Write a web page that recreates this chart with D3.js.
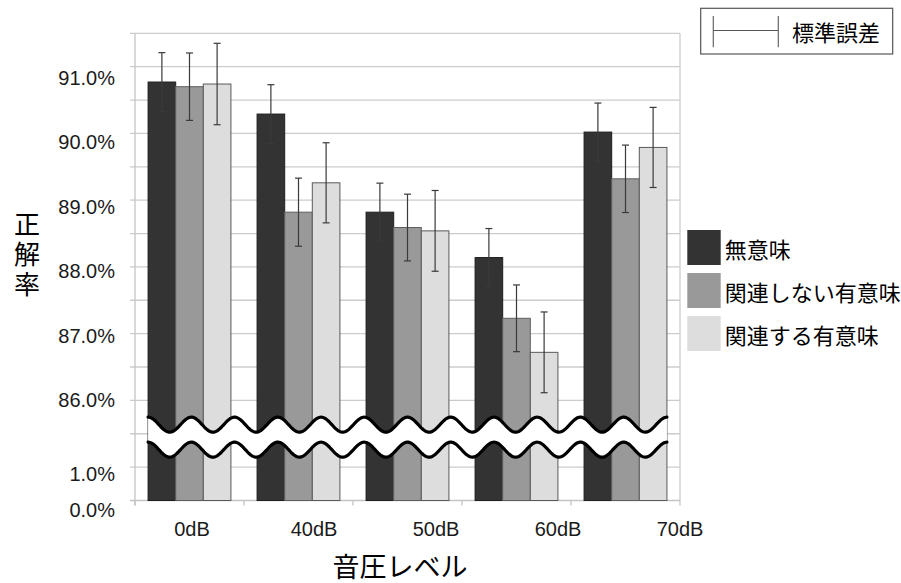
<!DOCTYPE html>
<html>
<head>
<meta charset="utf-8">
<script src="https://cdn.jsdelivr.net/npm/d3@7/dist/d3.min.js"></script>
<style>
  html, body { margin: 0; padding: 0; background: #fff; }
  svg { display: block; }
</style>
</head>
<body>
<svg id="chart" width="901" height="583"></svg>
<script>
// ---------------- data ----------------
const categories = ["0dB", "40dB", "50dB", "60dB", "70dB"];
const seriesNames = ["無意味", "関連しない有意味", "関連する有意味"];
const meaninglessValues = [90.77, 90.29, 88.82, 88.14, 90.02];
const unrelatedValues   = [90.70, 88.82, 88.59, 87.23, 89.32];
const relatedValues     = [90.74, 89.26, 88.54, 86.72, 89.79];
const meaninglessErrors = [0.44, 0.44, 0.435, 0.435, 0.435];
const unrelatedErrors   = [0.505, 0.51, 0.50, 0.50, 0.505];
const relatedErrors     = [0.61, 0.60, 0.605, 0.605, 0.60];
const yTickValues = [0, 1, 86, 87, 88, 89, 90, 91];
const xTitle = "音圧レベル";
const yTitle = "正解率";
const errorLegendLabel = "標準誤差";

// ---------------- setup ----------------
const svg = d3.select("#chart");
const seriesColors = ["#333333", "#999999", "#dddddd"];
const seriesStroke = ["#1e1e1e", "#5e5e5e", "#5a5a5a"];
const latin = "'Liberation Sans', Arial, sans-serif";
const cjk = "'Noto Sans CJK JP', 'Noto Sans', sans-serif";

const series = seriesNames.map((name, i) => ({
  name,
  values: [meaninglessValues, unrelatedValues, relatedValues][i],
  errors: [meaninglessErrors, unrelatedErrors, relatedErrors][i],
  color: seriesColors[i],
  stroke: seriesStroke[i]
}));

const plotLeft = 135, plotRight = 680, plotTop = 33.3, plotBottom = 500.5;

// broken y scale: 0–1% at bottom, 86–91.5% above the break
const y = d3.scaleLinear()
  .domain([0, 1, 86, 91.5])
  .range([plotBottom, plotBottom - 33.37, plotBottom - 100.1, plotTop]);

// placement of the hand-placed tick texts
const yLabel = d3.scaleLinear()
  .domain([0, 1, 86, 91])
  .range([510, 474, 400, 77.5]);

const x = d3.scaleBand()
  .domain(categories)
  .range([plotLeft, plotRight])
  .paddingInner(0.24)
  .paddingOuter(0.12);

const xs = d3.scaleBand()
  .domain(seriesNames)
  .range([0, x.bandwidth()]);

const xLabel = d3.scalePoint()
  .domain(categories)
  .range([192, 680]);

// ---------------- gridlines ----------------
const nGrid = 14;
const gridScale = d3.scaleLinear().domain([0, nGrid]).range([plotBottom, plotTop]);
const gridG = svg.append("g");
gridG.selectAll("line.grid")
  .data(d3.range(1, nGrid + 1))
  .join("line")
  .attr("class", "grid")
  .attr("x1", plotLeft - 5).attr("x2", plotRight)
  .attr("y1", d => gridScale(d)).attr("y2", d => gridScale(d))
  .attr("stroke", "#cccccc").attr("stroke-width", 1.3);
gridG.append("line")
  .attr("x1", plotLeft).attr("x2", plotLeft)
  .attr("y1", plotTop).attr("y2", plotBottom + 5)
  .attr("stroke", "#c4c4c4").attr("stroke-width", 1.3);
gridG.append("line")
  .attr("x1", plotRight).attr("x2", plotRight)
  .attr("y1", plotTop).attr("y2", plotBottom)
  .attr("stroke", "#cccccc").attr("stroke-width", 1.3);
gridG.append("line")
  .attr("x1", plotLeft - 5).attr("x2", plotRight)
  .attr("y1", plotBottom).attr("y2", plotBottom)
  .attr("stroke", "#c4c4c4").attr("stroke-width", 1.3);
gridG.selectAll("line.xtick")
  .data(d3.range(0, categories.length + 1))
  .join("line")
  .attr("class", "xtick")
  .attr("x1", d => plotLeft + d * x.step()).attr("x2", d => plotLeft + d * x.step())
  .attr("y1", plotBottom).attr("y2", plotBottom + 5)
  .attr("stroke", "#c4c4c4").attr("stroke-width", 1.3);

// ---------------- bars ----------------
const barsG = svg.append("g");
series.forEach(s => {
  barsG.selectAll(null)
    .data(categories.map((c, i) => ({ c, v: s.values[i], e: s.errors[i] })))
    .join("rect")
    .attr("x", d => x(d.c) + xs(s.name))
    .attr("y", d => y(d.v))
    .attr("width", xs.bandwidth())
    .attr("height", d => y(0) - y(d.v))
    .attr("fill", s.color)
    .attr("stroke", s.stroke)
    .attr("stroke-width", 1);
});

// ---------------- error bars ----------------
const errG = svg.append("g");
series.forEach(s => {
  const data = categories.map((c, i) => ({ c, v: s.values[i], e: s.errors[i] }));
  const cx = d => x(d.c) + xs(s.name) + xs.bandwidth() / 2;
  const g = errG.selectAll(null).data(data).join("g");
  g.append("line")
    .attr("x1", cx).attr("x2", cx)
    .attr("y1", d => y(d.v + d.e)).attr("y2", d => y(d.v - d.e))
    .attr("stroke", "#3a3a3a").attr("stroke-width", 1.2);
  [1, -1].forEach(sign => {
    g.append("line")
      .attr("x1", d => cx(d) - 3.5).attr("x2", d => cx(d) + 3.5)
      .attr("y1", d => y(d.v + sign * d.e)).attr("y2", d => y(d.v + sign * d.e))
      .attr("stroke", "#3a3a3a").attr("stroke-width", 1.2);
  });
});

// ---------------- axis break ----------------
const breakStart = x(categories[0]);
const breakEnd = x(categories[categories.length - 1]) + x.bandwidth();
const breakCenter = (y(1) + y(86)) / 2 + 3.4;
const waveAmp = 7.5, waveGap = 12.5;
const nWaves = 12;
const period = (breakEnd - breakStart) / nWaves;
const xsWave = d3.range(breakStart, breakEnd + 0.01, 1);
if (xsWave[xsWave.length - 1] < breakEnd) xsWave.push(breakEnd);
const waveY = (px, c) => c - waveAmp * Math.cos(2 * Math.PI * (px - breakStart) / period);
const upper = xsWave.map(px => [px, waveY(px, breakCenter - waveGap)]);
const lower = xsWave.map(px => [px, waveY(px, breakCenter + waveGap)]);
const lineGen = d3.line();
svg.append("path")
  .attr("d", lineGen(upper.concat(lower.slice().reverse())) + "Z")
  .attr("fill", "#ffffff");
[upper, lower].forEach(pts => {
  svg.append("path")
    .attr("d", lineGen(pts))
    .attr("fill", "none")
    .attr("stroke", "#000")
    .attr("stroke-width", 3.2)
    .attr("stroke-linecap", "round");
});

// ---------------- tick labels ----------------
svg.append("g").selectAll("text")
  .data(yTickValues)
  .join("text")
  .attr("x", 115)
  .attr("y", d => yLabel(d))
  .attr("text-anchor", "end")
  .attr("dominant-baseline", "central")
  .attr("font-family", latin)
  .attr("font-size", 20)
  .attr("fill", "#1a1a1a")
  .text(d => d3.format(".1f")(d) + "%");

svg.append("g").selectAll("text")
  .data(categories)
  .join("text")
  .attr("x", d => xLabel(d))
  .attr("y", 529)
  .attr("text-anchor", "middle")
  .attr("dominant-baseline", "central")
  .attr("font-family", latin)
  .attr("font-size", 20)
  .attr("fill", "#1a1a1a")
  .text(d => d);

// ---------------- axis titles ----------------
svg.append("text")
  .attr("x", 400).attr("y", 565)
  .attr("text-anchor", "middle")
  .attr("dominant-baseline", "central")
  .attr("font-family", cjk)
  .attr("font-size", 27)
  .attr("fill", "#000")
  .text(xTitle);

svg.append("text")
  .attr("x", 27)
  .attr("y", 256)
  .attr("text-anchor", "middle")
  .style("writing-mode", "vertical-rl")
  .style("text-orientation", "upright")
  .style("letter-spacing", "4px")
  .attr("font-family", cjk)
  .attr("font-size", 26)
  .attr("fill", "#000")
  .text(yTitle);

// ---------------- series legend ----------------
const legG = svg.append("g").attr("transform", "translate(687.3,230)");
const legRow = legG.selectAll("g").data(series).join("g")
  .attr("transform", (d, i) => `translate(0,${i * 43})`);
legRow.append("rect")
  .attr("width", 33.4).attr("height", 35)
  .attr("fill", d => d.color);
legRow.append("text")
  .attr("x", 37.5).attr("y", 18)
  .attr("dominant-baseline", "central")
  .attr("font-family", cjk)
  .attr("font-size", 22)
  .attr("fill", "#000")
  .text(d => d.name);

// ---------------- error legend ----------------
const eg = svg.append("g");
eg.append("rect")
  .attr("x", 700.7).attr("y", 8.3)
  .attr("width", 192).attr("height", 45.7)
  .attr("fill", "#fff").attr("stroke", "#555").attr("stroke-width", 1.2);
eg.append("line").attr("x1", 713.3).attr("x2", 778.3).attr("y1", 30.5).attr("y2", 30.5)
  .attr("stroke", "#555").attr("stroke-width", 1.2);
[713.3, 778.3].forEach(px => {
  eg.append("line").attr("x1", px).attr("x2", px).attr("y1", 16).attr("y2", 47.3)
    .attr("stroke", "#666").attr("stroke-width", 1.2);
});
eg.append("text")
  .attr("x", 792).attr("y", 30.5)
  .attr("dominant-baseline", "central")
  .attr("font-family", cjk)
  .attr("font-size", 22)
  .attr("fill", "#000")
  .text(errorLegendLabel);
</script>
</body>
</html>
